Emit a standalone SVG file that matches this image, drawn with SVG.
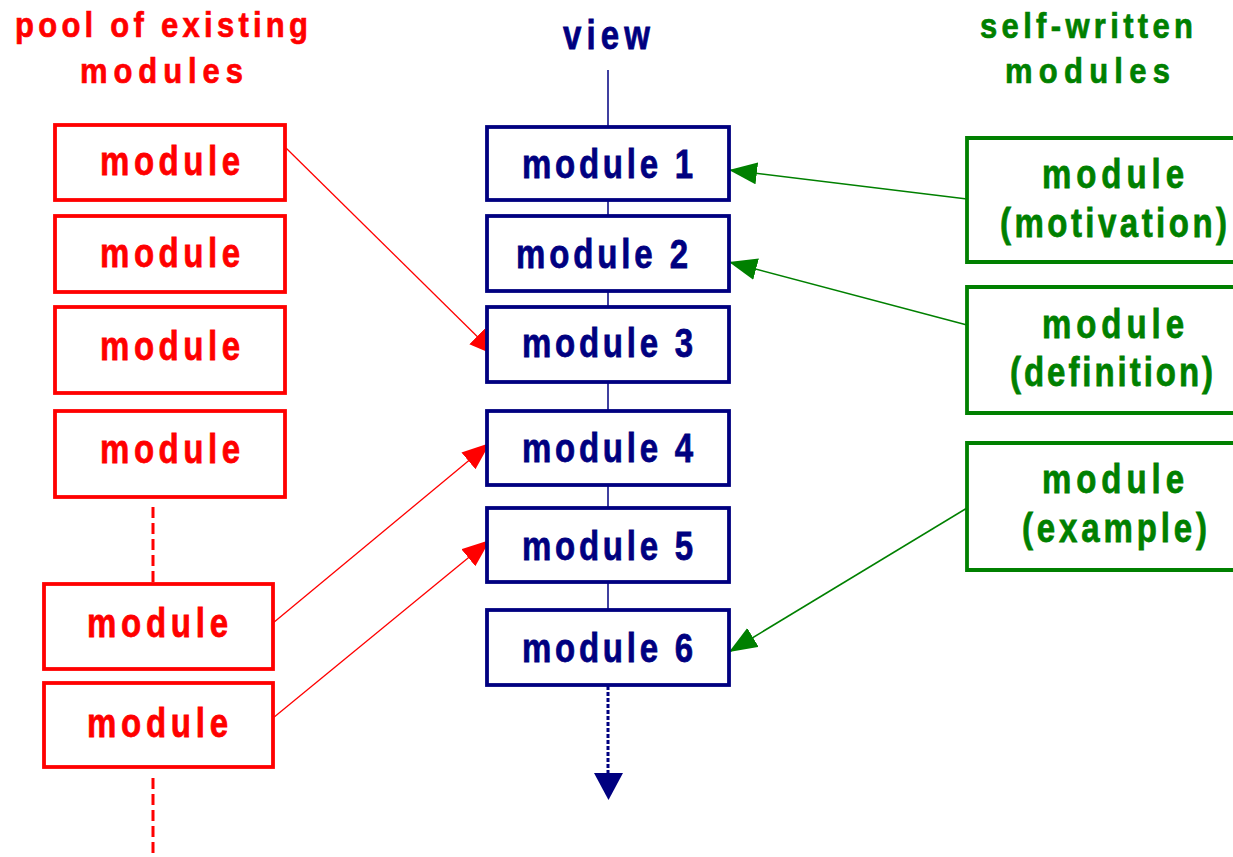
<svg xmlns="http://www.w3.org/2000/svg" width="1233" height="857" viewBox="0 0 1233 857">
<style>
.t{font-family:"Liberation Sans",Arial,sans-serif;font-weight:bold;font-size:33px;text-anchor:middle;stroke-width:0.6}
.h{font-family:"Liberation Sans",Arial,sans-serif;font-weight:bold;font-size:31px;text-anchor:middle;stroke-width:0.6}
.red{fill:#FF0000;stroke:#FF0000}.blue{fill:#000080;stroke:#000080}.green{fill:#008000;stroke:#008000}
.rb{fill:#fff;stroke:#FF0000;stroke-width:3.8}
.bb{fill:#fff;stroke:#000080;stroke-width:3.8}
.gb{fill:#fff;stroke:#008000;stroke-width:3.8}
.rl{stroke:#FF0000;stroke-width:1.3;fill:none}
.gl{stroke:#008000;stroke-width:1.6;fill:none}
</style>
<defs>
<marker id="ar" markerUnits="userSpaceOnUse" markerWidth="30" markerHeight="24" refX="28" refY="11" orient="auto"><path d="M0,0 L28,11 L0,22 Z" fill="#FF0000"/></marker>
<marker id="ag" markerUnits="userSpaceOnUse" markerWidth="30" markerHeight="24" refX="28" refY="11" orient="auto"><path d="M0,0 L28,11 L0,22 Z" fill="#008000"/></marker>
</defs>

<g id="titles">
<text class="h red" transform="translate(161.5,37) scale(1,1.12)" textLength="293" lengthAdjust="spacing">pool of existing</text>
<text class="h red" transform="translate(161.5,83) scale(1,1.12)" textLength="163" lengthAdjust="spacing">modules</text>
<text class="t blue" transform="translate(606.5,49) scale(1,1.25)" textLength="87" lengthAdjust="spacing">view</text>
<text class="h green" transform="translate(1086.5,38) scale(1,1.12)" textLength="213" lengthAdjust="spacing">self-written</text>
<text class="h green" transform="translate(1087.5,83) scale(1,1.12)" textLength="165" lengthAdjust="spacing">modules</text>
</g>

<g id="connectors">
<line x1="608" y1="70" x2="608" y2="611" stroke="#000080" stroke-width="1.5"/>
<line x1="608" y1="686" x2="608" y2="775" stroke="#000080" stroke-width="3" stroke-dasharray="4,2"/>
<path d="M594,773 L623,773 L608.5,800 Z" fill="#000080"/>
<line x1="153" y1="507" x2="153" y2="584" stroke="#FF0000" stroke-width="3" stroke-dasharray="11,5"/>
<line x1="153" y1="778" x2="153" y2="857" stroke="#FF0000" stroke-width="3" stroke-dasharray="11,5"/>
<line class="rl" x1="286" y1="148" x2="497" y2="356" marker-end="url(#ar)"/>
<line class="rl" x1="273" y1="623" x2="490" y2="443" marker-end="url(#ar)"/>
<line class="rl" x1="273" y1="718" x2="490" y2="540" marker-end="url(#ar)"/>
<line class="gl" x1="967" y1="199" x2="729" y2="170" marker-end="url(#ag)"/>
<line class="gl" x1="967" y1="325" x2="729" y2="262" marker-end="url(#ag)"/>
<line class="gl" x1="967" y1="508" x2="729" y2="652" marker-end="url(#ag)"/>
</g>

<g id="pool1"><rect class="rb" x="55" y="125" width="230" height="75"/><text class="t red" transform="translate(170,175) scale(1,1.25)" textLength="140" lengthAdjust="spacing">module</text></g>
<g id="pool2"><rect class="rb" x="55" y="216" width="230" height="76"/><text class="t red" transform="translate(170,267) scale(1,1.25)" textLength="140" lengthAdjust="spacing">module</text></g>
<g id="pool3"><rect class="rb" x="55" y="307" width="230" height="86"/><text class="t red" transform="translate(170,360) scale(1,1.25)" textLength="140" lengthAdjust="spacing">module</text></g>
<g id="pool4"><rect class="rb" x="55" y="411" width="230" height="86"/><text class="t red" transform="translate(170,463) scale(1,1.25)" textLength="140" lengthAdjust="spacing">module</text></g>
<g id="pool5"><rect class="rb" x="44" y="584" width="229" height="85"/><text class="t red" transform="translate(157.5,637) scale(1,1.25)" textLength="141" lengthAdjust="spacing">module</text></g>
<g id="pool6"><rect class="rb" x="44" y="683" width="229" height="84"/><text class="t red" transform="translate(157.5,737) scale(1,1.25)" textLength="141" lengthAdjust="spacing">module</text></g>

<g id="view1"><rect class="bb" x="487" y="127" width="242" height="73"/><text class="t blue" transform="translate(607.5,178) scale(1,1.25)" textLength="171" lengthAdjust="spacing">module 1</text></g>
<g id="view2"><rect class="bb" x="487" y="216" width="242" height="75"/><text class="t blue" transform="translate(602,268) scale(1,1.25)" textLength="172" lengthAdjust="spacing">module 2</text></g>
<g id="view3"><rect class="bb" x="487" y="307" width="242" height="75"/><text class="t blue" transform="translate(607.5,357) scale(1,1.25)" textLength="171" lengthAdjust="spacing">module 3</text></g>
<g id="view4"><rect class="bb" x="487" y="411" width="242" height="74"/><text class="t blue" transform="translate(607.5,462) scale(1,1.25)" textLength="171" lengthAdjust="spacing">module 4</text></g>
<g id="view5"><rect class="bb" x="487" y="508" width="242" height="74"/><text class="t blue" transform="translate(607.5,560) scale(1,1.25)" textLength="171" lengthAdjust="spacing">module 5</text></g>
<g id="view6"><rect class="bb" x="487" y="610" width="242" height="75"/><text class="t blue" transform="translate(607.5,662) scale(1,1.25)" textLength="171" lengthAdjust="spacing">module 6</text></g>

<g id="own1"><path class="gb" d="M1235,138 H967 V262 H1235"/><text class="t green" transform="translate(1113,188) scale(1,1.25)" textLength="142" lengthAdjust="spacing">module</text><text class="t green" transform="translate(1113.5,237) scale(1,1.25)" textLength="227" lengthAdjust="spacing">(motivation)</text></g>
<g id="own2"><path class="gb" d="M1235,287 H967 V413 H1235"/><text class="t green" transform="translate(1113,338) scale(1,1.25)" textLength="142" lengthAdjust="spacing">module</text><text class="t green" transform="translate(1111.5,386) scale(1,1.25)" textLength="203" lengthAdjust="spacing">(definition)</text></g>
<g id="own3"><path class="gb" d="M1235,443 H967 V570 H1235"/><text class="t green" transform="translate(1113,493) scale(1,1.25)" textLength="142" lengthAdjust="spacing">module</text><text class="t green" transform="translate(1114.5,542) scale(1,1.25)" textLength="185" lengthAdjust="spacing">(example)</text></g>
</svg>
